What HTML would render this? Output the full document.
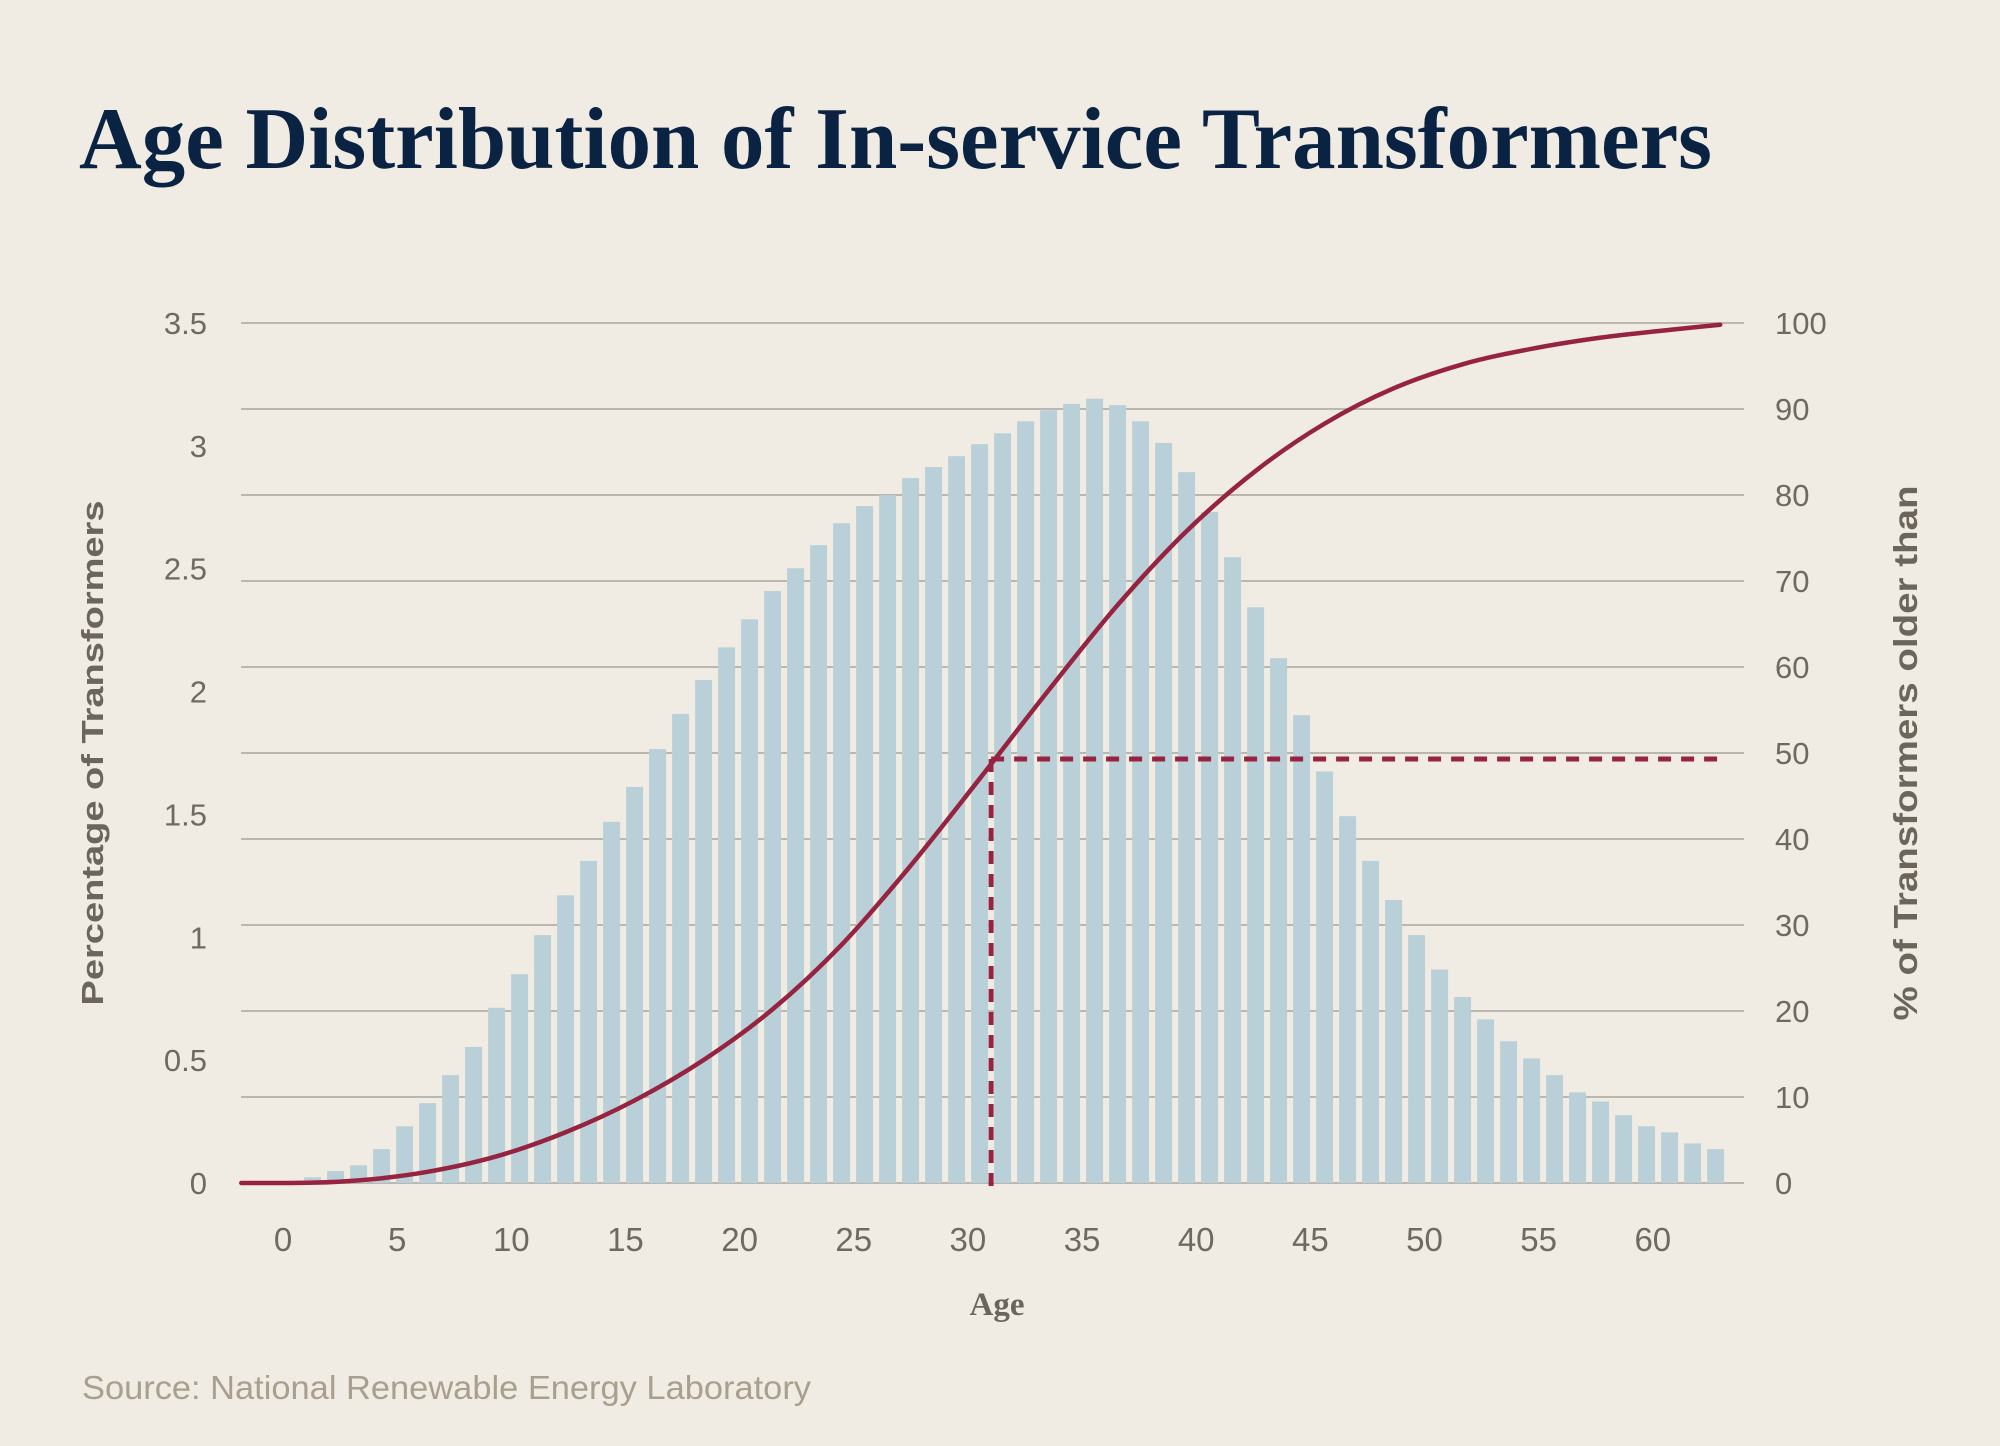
<!DOCTYPE html>
<html><head><meta charset="utf-8">
<style>
html,body{margin:0;padding:0;background:#f1ece3;}
svg{display:block;}
</style></head>
<body>
<svg id="chart" width="2000" height="1446" viewBox="0 0 2000 1446" xmlns="http://www.w3.org/2000/svg">
<rect x="0" y="0" width="2000" height="1446" fill="#f1ece3"/>
<text x="79" y="168" font-family="Liberation Serif, serif" font-weight="bold" font-size="88" fill="#0b2343" textLength="1633" lengthAdjust="spacingAndGlyphs">Age Distribution of In-service Transformers</text>
<g id="grid"></g>
<g id="bars"></g>
<g id="lefttick"></g>
<g id="righttick"></g>
<g id="xtick"></g>
<g id="lines"></g>
<text transform="translate(103,753) rotate(-90)" text-anchor="middle" font-family="Liberation Sans, sans-serif" font-weight="bold" font-size="31" fill="#6b655c" textLength="505" lengthAdjust="spacingAndGlyphs">Percentage of Transformers</text>
<text transform="translate(1917,753) rotate(-90)" text-anchor="middle" font-family="Liberation Sans Narrow, Liberation Sans, sans-serif" font-weight="bold" font-size="33" fill="#6b655c" textLength="535" lengthAdjust="spacingAndGlyphs">% of Transformers older than</text>
<text x="997" y="1315" text-anchor="middle" font-family="Liberation Serif, serif" font-weight="bold" font-size="33" fill="#6b655c">Age</text>
<text x="82" y="1399" font-family="Liberation Sans Narrow, Liberation Sans, sans-serif" font-size="33" fill="#a89f8e" textLength="729" lengthAdjust="spacingAndGlyphs">Source: National Renewable Energy Laboratory</text>
</svg>
<script>
const ages = [1,2,3,4,5,6,7,8,9,10,11,12,13,14,15,16,17,18,19,20,21,22,23,24,25,26,27,28,29,30,31,32,33,34,35,36,37,38,39,40,41,42,43,44,45,46,47,48,49,50,51,52,53,54,55,56,57,58,59,60,61,62];
const pctValues = [0.023,0.049,0.072,0.138,0.231,0.325,0.439,0.554,0.713,0.850,1.009,1.171,1.311,1.470,1.612,1.766,1.909,2.047,2.180,2.294,2.409,2.502,2.596,2.685,2.755,2.799,2.869,2.914,2.958,3.007,3.051,3.100,3.145,3.171,3.192,3.166,3.100,3.012,2.893,2.731,2.547,2.343,2.136,1.904,1.675,1.493,1.311,1.152,1.009,0.869,0.757,0.666,0.577,0.507,0.439,0.369,0.332,0.276,0.231,0.206,0.161,0.138];
const curveAges = [-2.1,0,3,6,9,12,15,18,21,24,27,30,33,36,39,42,45,48,51,54,57,60,62.2];
const curveValues = [0,0,0.3,1.3,3.1,5.9,9.6,14.3,20.2,27.7,36.9,47.0,57.3,67.2,75.8,82.8,88.3,92.4,95.2,97.0,98.3,99.2,99.8];
const medianAge = 30.5;
const medianPct = 49.3;
const leftTicks = [0,0.5,1,1.5,2,2.5,3,3.5];
const leftTickLabels = ["0","0.5","1","1.5","2","2.5","3","3.5"];
const rightTicks = [0,10,20,30,40,50,60,70,80,90,100];
const xTicks = [0,5,10,15,20,25,30,35,40,45,50,55,60];

const NS = "http://www.w3.org/2000/svg";
const Y0 = 1183, Y1 = 323;
const xS = a => 289.6 + 23.0 * a;
const xLab = a => 283 + 22.83 * a;
const yL = v => Y0 - (Y0 - Y1) * v / 3.5;
const yR = v => Y0 - (Y0 - Y1) * v / 100;
function mk(tag, attrs, parent, txt){
  const e = document.createElementNS(NS, tag);
  for (const k in attrs) e.setAttribute(k, attrs[k]);
  if (txt !== undefined) e.textContent = txt;
  document.getElementById(parent).appendChild(e);
  return e;
}
rightTicks.forEach((t,i) => {
  const g = mk('line', {x1:241, x2:1744, y1:yR(t), y2:yR(t), stroke:'#bab7b1', 'stroke-width':2}, 'grid');
  
  
  const l = mk('text', {x:1775, y:yR(t)+11, 'font-family':'Liberation Sans, sans-serif', 'font-size':31, fill:'#6e6a62'}, 'righttick', String(t));
  
  
});
leftTicks.forEach((t,i) => {
  const l = mk('text', {x:207, y:yL(t)+11, 'text-anchor':'end', 'font-family':'Liberation Sans, sans-serif', 'font-size':31, fill:'#6e6a62'}, 'lefttick', leftTickLabels[i]);
  
  
});
xTicks.forEach(t => {
  const l = mk('text', {x:xLab(t), y:1251, 'text-anchor':'middle', 'font-family':'Liberation Sans Narrow, Liberation Sans, sans-serif', 'font-size':33, fill:'#6e6a62'}, 'xtick', String(t));
  
  
});
ages.forEach((a,i) => {
  const y = yL(pctValues[i]);
  const b = mk('rect', {x:xS(a)-8.5, y:y, width:17, height:Y0-y, fill:'#bad0d8'}, 'bars');
  
  
});
// monotone cubic (Fritsch-Carlson) curve
const px = curveAges.map(xS), py = curveValues.map(yR);
const n = px.length;
const dk = [], m = [];
for (let i = 0; i < n-1; i++) dk.push((py[i+1]-py[i])/(px[i+1]-px[i]));
m[0] = dk[0]; m[n-1] = dk[n-2];
for (let i = 1; i < n-1; i++) m[i] = (dk[i-1]*dk[i] <= 0) ? 0 : (dk[i-1]+dk[i])/2;
for (let i = 0; i < n-1; i++) {
  if (dk[i] === 0) { m[i] = 0; m[i+1] = 0; continue; }
  const a = m[i]/dk[i], b = m[i+1]/dk[i], s = a*a + b*b;
  if (s > 9) { const t = 3/Math.sqrt(s); m[i] = t*a*dk[i]; m[i+1] = t*b*dk[i]; }
}
let d = 'M' + px[0] + ',' + py[0];
for (let i = 0; i < n-1; i++) {
  const h = (px[i+1]-px[i])/3;
  d += ' C' + (px[i]+h) + ',' + (py[i]+m[i]*h) + ' ' + (px[i+1]-h) + ',' + (py[i+1]-m[i+1]*h) + ' ' + px[i+1] + ',' + py[i+1];
}
const c = mk('path', {d:d, fill:'none', stroke:'#962340', 'stroke-width':4.5, 'stroke-linecap':'round'}, 'lines');


const hl = mk('line', {x1:xS(medianAge), x2:xS(62.2), y1:yR(medianPct), y2:yR(medianPct), stroke:'#962340', 'stroke-width':5, 'stroke-dasharray':'13 10'}, 'lines');


const vl = mk('line', {x1:xS(medianAge), x2:xS(medianAge), y1:yR(medianPct), y2:1188, stroke:'#962340', 'stroke-width':5, 'stroke-dasharray':'13 10'}, 'lines');


</script>
</body></html>
